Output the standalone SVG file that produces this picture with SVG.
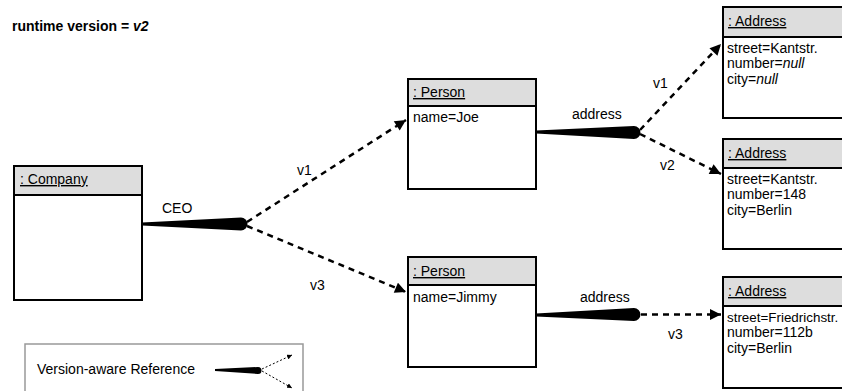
<svg xmlns="http://www.w3.org/2000/svg" width="842" height="391" viewBox="0 0 842 391">
<style>
  text { font-family: "Liberation Sans", Arial, sans-serif; font-size: 14px; fill: #000; }
  .box { fill: #fff; stroke: #000; stroke-width: 2; }
  .hdr { fill: #dddddd; stroke: #000; stroke-width: 2; }
  .ul { text-decoration: underline; }
  .dash { fill: none; stroke: #000; stroke-width: 2.5; stroke-dasharray: 6 5; }
  .thin { fill: none; stroke: #000; stroke-width: 1; stroke-dasharray: 2 2; }
  .wedge { fill: #000; stroke: none; }
  .title { font-weight: bold; }
</style>
<defs>
  <marker id="arr" viewBox="0 0 10 10" refX="10" refY="5" markerWidth="12" markerHeight="11" markerUnits="userSpaceOnUse" orient="auto">
    <path d="M0,0 L10,5 L0,10 Z" fill="#000"/>
  </marker>
  <marker id="arrs" viewBox="0 0 10 10" refX="10" refY="5" markerWidth="5" markerHeight="5" markerUnits="userSpaceOnUse" orient="auto">
    <path d="M0,0 L10,5 L0,10 Z" fill="#000"/>
  </marker>
</defs>

<text class="title" x="12" y="31">runtime version = <tspan font-style="italic">v2</tspan></text>

<g id="company">
  <rect class="box" x="14" y="166" width="128" height="134"/>
  <rect class="hdr" x="14" y="166" width="128" height="29"/>
  <text class="ul" x="20" y="184">: Company</text>
</g>

<g id="person-joe">
  <rect class="box" x="408" y="79" width="128" height="110"/>
  <rect class="hdr" x="408" y="79" width="128" height="27"/>
  <text class="ul" x="413" y="97">: Person</text>
  <text x="413" y="122">name=Joe</text>
</g>

<g id="person-jimmy">
  <rect class="box" x="408" y="257" width="128" height="110"/>
  <rect class="hdr" x="408" y="257" width="128" height="28"/>
  <text class="ul" x="413" y="276">: Person</text>
  <text x="413" y="302">name=Jimmy</text>
</g>

<g id="address-1">
  <rect class="box" x="723" y="7" width="130" height="111"/>
  <rect class="hdr" x="723" y="7" width="130" height="30"/>
  <text class="ul" x="728" y="26">: Address</text>
  <text x="727" y="53">street=Kantstr.</text>
  <text x="727" y="68">number=<tspan font-style="italic">null</tspan></text>
  <text x="727" y="84">city=<tspan font-style="italic">null</tspan></text>
</g>

<g id="address-2">
  <rect class="box" x="723" y="139" width="130" height="110"/>
  <rect class="hdr" x="723" y="139" width="130" height="29"/>
  <text class="ul" x="728" y="158">: Address</text>
  <text x="727" y="184">street=Kantstr.</text>
  <text x="727" y="199">number=148</text>
  <text x="727" y="215">city=Berlin</text>
</g>

<g id="address-3">
  <rect class="box" x="723" y="277" width="130" height="111"/>
  <rect class="hdr" x="723" y="277" width="130" height="29"/>
  <text class="ul" x="728" y="296">: Address</text>
  <text x="727" y="322" style="font-size:13.4px">street=Friedrichstr.</text>
  <text x="727" y="337">number=112b</text>
  <text x="727" y="353">city=Berlin</text>
</g>

<g id="connectors">
  <path class="wedge" d="M142,222.5 L241,217.5 A6.5,6.5 0 0 1 241,230.5 L142,225.5 Z"/>
  <line class="dash" x1="247" y1="222" x2="406" y2="120" marker-end="url(#arr)"/>
  <line class="dash" x1="247" y1="226" x2="406" y2="292" marker-end="url(#arr)"/>
  <text x="162" y="213">CEO</text>
  <text x="297" y="175">v1</text>
  <text x="310" y="290">v3</text>

  <path class="wedge" d="M536,130.5 L634,126 A6.5,6.5 0 0 1 634,139 L536,133.5 Z"/>
  <line class="dash" x1="640" y1="130" x2="721" y2="44" marker-end="url(#arr)"/>
  <line class="dash" x1="640" y1="134" x2="721" y2="174" marker-end="url(#arr)"/>
  <text x="572" y="119">address</text>
  <text x="653" y="88">v1</text>
  <text x="660" y="170">v2</text>

  <path class="wedge" d="M536,313.5 L634,308 A6.5,6.5 0 0 1 634,321 L536,316.5 Z"/>
  <line class="dash" x1="641" y1="314.5" x2="721" y2="314.5" marker-end="url(#arr)"/>
  <text x="580" y="302">address</text>
  <text x="668" y="339">v3</text>
</g>

<g id="legend">
  <rect x="25" y="344" width="278" height="60" fill="#fff" stroke="#999" stroke-width="1.5"/>
  <text x="37" y="374">Version-aware Reference</text>
  <path class="wedge" d="M215,369 L258,367 A3.5,3.5 0 0 1 258,374 L215,371 Z"/>
  <line class="thin" x1="262" y1="369" x2="292" y2="355" marker-end="url(#arrs)"/>
  <line class="thin" x1="262" y1="371" x2="292" y2="388" marker-end="url(#arrs)"/>
</g>
</svg>
